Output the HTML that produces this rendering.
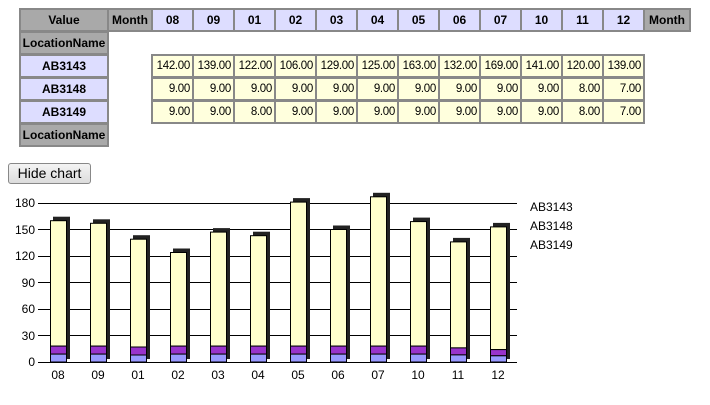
<!DOCTYPE html>
<html><head><meta charset="utf-8"><style>
body{margin:0;width:710px;height:405px;background:#fff;position:relative;overflow:hidden;font-family:"Liberation Sans",sans-serif}
.c{position:absolute;box-sizing:border-box;border:2px solid #888;height:24px;font-size:12px;line-height:20px;text-align:center;font-weight:bold;color:#000}
.g{background:#a9a9a9}
.h{background:#ddddff}
.d{background:#ffffdd;font-weight:normal;text-align:right;padding-right:2px;font-size:11.5px;letter-spacing:-0.3px}
.btn{position:absolute;left:8px;top:163px;width:83px;height:21px;box-sizing:border-box;border:1px solid #888;border-radius:3px;background:linear-gradient(#f4f4f4,#dcdcdc);font-size:14px;line-height:19px;text-align:center}
</style></head><body>
<div class="c g" style="left:19px;top:8px;width:90px">Value</div>
<div class="c g" style="left:107px;top:8px;width:46px">Month</div>
<div class="c h" style="left:151px;top:8px;width:43px">08</div>
<div class="c h" style="left:192px;top:8px;width:43px">09</div>
<div class="c h" style="left:233px;top:8px;width:43px">01</div>
<div class="c h" style="left:274px;top:8px;width:43px">02</div>
<div class="c h" style="left:315px;top:8px;width:43px">03</div>
<div class="c h" style="left:356px;top:8px;width:43px">04</div>
<div class="c h" style="left:397px;top:8px;width:43px">05</div>
<div class="c h" style="left:438px;top:8px;width:43px">06</div>
<div class="c h" style="left:479px;top:8px;width:43px">07</div>
<div class="c h" style="left:520px;top:8px;width:43px">10</div>
<div class="c h" style="left:561px;top:8px;width:43px">11</div>
<div class="c h" style="left:602px;top:8px;width:43px">12</div>
<div class="c g" style="left:643px;top:8px;width:48px">Month</div>
<div class="c g" style="left:19px;top:31px;width:90px">LocationName</div>
<div class="c h" style="left:19px;top:54px;width:90px">AB3143</div>
<div class="c h" style="left:19px;top:77px;width:90px">AB3148</div>
<div class="c h" style="left:19px;top:100px;width:90px">AB3149</div>
<div class="c g" style="left:19px;top:123px;width:90px">LocationName</div>

<div class="c d" style="left:151px;top:54px;width:43px">142.00</div>
<div class="c d" style="left:192px;top:54px;width:43px">139.00</div>
<div class="c d" style="left:233px;top:54px;width:43px">122.00</div>
<div class="c d" style="left:274px;top:54px;width:43px">106.00</div>
<div class="c d" style="left:315px;top:54px;width:43px">129.00</div>
<div class="c d" style="left:356px;top:54px;width:43px">125.00</div>
<div class="c d" style="left:397px;top:54px;width:43px">163.00</div>
<div class="c d" style="left:438px;top:54px;width:43px">132.00</div>
<div class="c d" style="left:479px;top:54px;width:43px">169.00</div>
<div class="c d" style="left:520px;top:54px;width:43px">141.00</div>
<div class="c d" style="left:561px;top:54px;width:43px">120.00</div>
<div class="c d" style="left:602px;top:54px;width:43px">139.00</div>

<div class="c d" style="left:151px;top:77px;width:43px">9.00</div>
<div class="c d" style="left:192px;top:77px;width:43px">9.00</div>
<div class="c d" style="left:233px;top:77px;width:43px">9.00</div>
<div class="c d" style="left:274px;top:77px;width:43px">9.00</div>
<div class="c d" style="left:315px;top:77px;width:43px">9.00</div>
<div class="c d" style="left:356px;top:77px;width:43px">9.00</div>
<div class="c d" style="left:397px;top:77px;width:43px">9.00</div>
<div class="c d" style="left:438px;top:77px;width:43px">9.00</div>
<div class="c d" style="left:479px;top:77px;width:43px">9.00</div>
<div class="c d" style="left:520px;top:77px;width:43px">9.00</div>
<div class="c d" style="left:561px;top:77px;width:43px">8.00</div>
<div class="c d" style="left:602px;top:77px;width:43px">7.00</div>

<div class="c d" style="left:151px;top:100px;width:43px">9.00</div>
<div class="c d" style="left:192px;top:100px;width:43px">9.00</div>
<div class="c d" style="left:233px;top:100px;width:43px">8.00</div>
<div class="c d" style="left:274px;top:100px;width:43px">9.00</div>
<div class="c d" style="left:315px;top:100px;width:43px">9.00</div>
<div class="c d" style="left:356px;top:100px;width:43px">9.00</div>
<div class="c d" style="left:397px;top:100px;width:43px">9.00</div>
<div class="c d" style="left:438px;top:100px;width:43px">9.00</div>
<div class="c d" style="left:479px;top:100px;width:43px">9.00</div>
<div class="c d" style="left:520px;top:100px;width:43px">9.00</div>
<div class="c d" style="left:561px;top:100px;width:43px">8.00</div>
<div class="c d" style="left:602px;top:100px;width:43px">7.00</div>

<div class="btn">Hide chart</div>

<svg style="position:absolute;left:0;top:0" width="710" height="405" font-family="Liberation Sans, sans-serif" font-size="12">
<g stroke="#000" stroke-width="1">
<line x1="38" y1="203.5" x2="517" y2="203.5"/>
<line x1="38" y1="229.5" x2="517" y2="229.5"/>
<line x1="38" y1="256.5" x2="517" y2="256.5"/>
<line x1="38" y1="282.5" x2="517" y2="282.5"/>
<line x1="38" y1="309.5" x2="517" y2="309.5"/>
<line x1="38" y1="335.5" x2="517" y2="335.5"/>
</g>
<g text-anchor="end">
<text x="35" y="207">180</text><text x="35" y="234">150</text><text x="35" y="260">120</text>
<text x="35" y="287">90</text><text x="35" y="313">60</text><text x="35" y="340">30</text><text x="35" y="366">0</text>
</g>
<g fill="#222">
<rect x="53" y="216.7" width="17" height="142.3"/>
<rect x="93" y="219.3" width="17" height="139.7"/>
<rect x="133" y="235.2" width="17" height="123.8"/>
<rect x="173" y="248.5" width="17" height="110.5"/>
<rect x="213" y="228.1" width="17" height="130.9"/>
<rect x="253" y="231.7" width="17" height="127.3"/>
<rect x="293" y="198.1" width="17" height="160.9"/>
<rect x="333" y="225.5" width="17" height="133.5"/>
<rect x="373" y="192.8" width="17" height="166.2"/>
<rect x="413" y="217.6" width="17" height="141.4"/>
<rect x="453" y="237.9" width="17" height="121.1"/>
<rect x="493" y="222.9" width="17" height="136.1"/>
</g>
<g stroke="#000" stroke-width="1">
<g fill="#ffffcc">
<rect x="50.5" y="220.7" width="16" height="125.4"/>
<rect x="90.5" y="223.3" width="16" height="122.8"/>
<rect x="130.5" y="239.2" width="16" height="107.8"/>
<rect x="170.5" y="252.5" width="16" height="93.6"/>
<rect x="210.5" y="232.1" width="16" height="114"/>
<rect x="250.5" y="235.7" width="16" height="110.4"/>
<rect x="290.5" y="202.1" width="16" height="144"/>
<rect x="330.5" y="229.5" width="16" height="116.6"/>
<rect x="370.5" y="196.8" width="16" height="149.3"/>
<rect x="410.5" y="221.6" width="16" height="124.5"/>
<rect x="450.5" y="241.9" width="16" height="106"/>
<rect x="490.5" y="226.9" width="16" height="122.7"/>
</g>
<g fill="#9933cc">
<rect x="50.5" y="346.1" width="16" height="8"/>
<rect x="90.5" y="346.1" width="16" height="8"/>
<rect x="130.5" y="347" width="16" height="8"/>
<rect x="170.5" y="346.1" width="16" height="8"/>
<rect x="210.5" y="346.1" width="16" height="8"/>
<rect x="250.5" y="346.1" width="16" height="8"/>
<rect x="290.5" y="346.1" width="16" height="8"/>
<rect x="330.5" y="346.1" width="16" height="8"/>
<rect x="370.5" y="346.1" width="16" height="8"/>
<rect x="410.5" y="346.1" width="16" height="8"/>
<rect x="450.5" y="347.9" width="16" height="7"/>
<rect x="490.5" y="349.6" width="16" height="6.2"/>
</g>
<g fill="#9999ff">
<rect x="50.5" y="354.1" width="16" height="7.9"/>
<rect x="90.5" y="354.1" width="16" height="7.9"/>
<rect x="130.5" y="355" width="16" height="7"/>
<rect x="170.5" y="354.1" width="16" height="7.9"/>
<rect x="210.5" y="354.1" width="16" height="7.9"/>
<rect x="250.5" y="354.1" width="16" height="7.9"/>
<rect x="290.5" y="354.1" width="16" height="7.9"/>
<rect x="330.5" y="354.1" width="16" height="7.9"/>
<rect x="370.5" y="354.1" width="16" height="7.9"/>
<rect x="410.5" y="354.1" width="16" height="7.9"/>
<rect x="450.5" y="354.9" width="16" height="7.1"/>
<rect x="490.5" y="355.8" width="16" height="6.2"/>
</g>
<line x1="38" y1="362.5" x2="517" y2="362.5"/>
</g>
<g text-anchor="middle">
<text x="58" y="379">08</text><text x="98" y="379">09</text><text x="138" y="379">01</text>
<text x="178" y="379">02</text><text x="218" y="379">03</text><text x="258" y="379">04</text>
<text x="298" y="379">05</text><text x="338" y="379">06</text><text x="378" y="379">07</text>
<text x="418" y="379">10</text><text x="458" y="379">11</text><text x="498" y="379">12</text>
</g>
<text x="530" y="211">AB3143</text>
<text x="530" y="230">AB3148</text>
<text x="530" y="249">AB3149</text>
</svg>
</body></html>
